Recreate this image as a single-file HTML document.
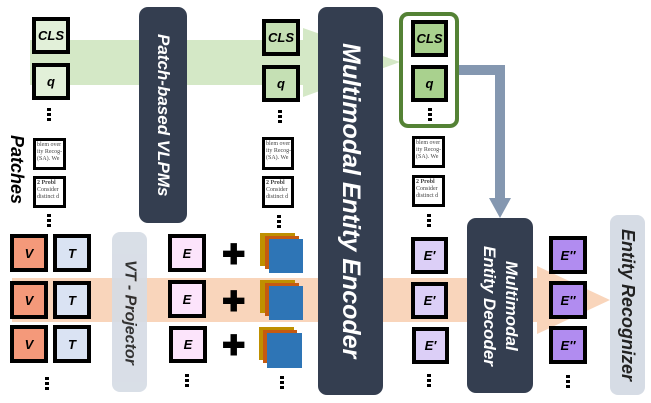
<!DOCTYPE html>
<html><head><meta charset="utf-8"><style>
body{margin:0;width:651px;height:403px;background:#fff;position:relative;overflow:hidden;font-family:"Liberation Sans",sans-serif}
.a{position:absolute;box-sizing:border-box}
.b{position:absolute;box-sizing:border-box;border:4px solid #000;display:flex;align-items:center;justify-content:center;font-weight:bold;font-style:italic;font-size:13px;color:#000}
.dk{position:absolute;background:#343e50;border-radius:9px;color:#fff;font-weight:bold;font-style:italic;writing-mode:vertical-rl;display:flex;align-items:center;justify-content:center;text-align:center}
.lt{position:absolute;background:#d6dce5;border-radius:8px;color:#222;font-weight:bold;font-style:italic;writing-mode:vertical-rl;display:flex;align-items:center;justify-content:center}
.dots{position:absolute;width:4px;font-size:0}
.dots i{display:block;width:4px;height:3px;background:#000;margin-bottom:2px}
.p{position:absolute;box-sizing:border-box;border:3px solid #000;background:#fff;font-family:"Liberation Serif",serif;font-size:6px;line-height:7px;overflow:hidden;color:#444;padding:1px;white-space:nowrap}
.plus{position:absolute;font-size:28px;font-weight:bold;color:#000;line-height:1}
</style></head><body>
<svg class="a" style="left:0;top:0" width="651" height="403">
<polygon points="30,40 303,40 303,28 400,62 303,97 303,85 30,85" fill="#d4e8c6"/>
<polygon points="12,278 537,278 537,266 610,300 537,334 537,322 12,322" fill="#f9d5bb"/>
<polygon points="459,65 505,65 505,198 511,198 500,218 489,198 495,198 495,75 459,75" fill="#8497b0"/>
</svg>
<div class="a" style="left:6px;top:135px;writing-mode:vertical-rl;font-weight:bold;font-style:italic;font-size:18px">Patches</div>
<div class="b" style="left:32px;top:17px;width:38px;height:37px;background:#e2f0d9">CLS</div>
<div class="b" style="left:32px;top:63px;width:38px;height:37px;background:#e2f0d9">q</div>
<div class="dots" style="left:47px;top:108px"><i></i><i></i><i></i></div>
<div class="p" style="left:33px;top:138px;width:33px;height:32px">blem over<br>ity Recog-<br>(SA). We</div>
<div class="p" style="left:33px;top:176px;width:33px;height:32px"><b>2 Probl</b><br>Consider<br>distinct d</div>
<div class="dots" style="left:47px;top:214px"><i></i><i></i><i></i></div>
<div class="dk" style="left:139px;top:7px;width:48px;height:216px;font-size:17px">Patch-based VLPMs</div>
<div class="b" style="left:262px;top:19px;width:38px;height:37px;background:#c5e0b4">CLS</div>
<div class="b" style="left:262px;top:65px;width:38px;height:37px;background:#c5e0b4">q</div>
<div class="dots" style="left:278px;top:110px"><i></i><i></i><i></i></div>
<div class="p" style="left:262px;top:137px;width:32px;height:33px">blem over<br>ity Recog-<br>(SA). We</div>
<div class="p" style="left:262px;top:176px;width:32px;height:32px"><b>2 Probl</b><br>Consider<br>distinct d</div>
<div class="dots" style="left:277px;top:215px"><i></i><i></i><i></i></div>
<div class="dk" style="left:318px;top:7px;width:65px;height:388px;font-size:25px">Multimodal Entity Encoder</div>
<div class="a" style="left:399px;top:12px;width:60px;height:116px;border:4px solid #548235;border-radius:9px;background:#fff"></div>
<div class="b" style="left:411px;top:20px;width:37px;height:37px;background:#a9d18e">CLS</div>
<div class="b" style="left:411px;top:65px;width:37px;height:37px;background:#a9d18e">q</div>
<div class="dots" style="left:428px;top:108px"><i></i><i></i><i></i></div>
<div class="p" style="left:412px;top:136px;width:33px;height:32px">blem over<br>ity Recog-<br>(SA). We</div>
<div class="p" style="left:412px;top:175px;width:33px;height:32px"><b>2 Probl</b><br>Consider<br>distinct d</div>
<div class="dots" style="left:427px;top:214px"><i></i><i></i><i></i></div>
<div class="b" style="left:10px;top:234px;width:38px;height:38px;background:#f4997a">V</div>
<div class="b" style="left:10px;top:281px;width:38px;height:38px;background:#f4997a">V</div>
<div class="b" style="left:10px;top:325px;width:38px;height:38px;background:#f4997a">V</div>
<div class="b" style="left:53px;top:234px;width:38px;height:38px;background:#dae3f3">T</div>
<div class="b" style="left:53px;top:281px;width:38px;height:38px;background:#dae3f3">T</div>
<div class="b" style="left:53px;top:325px;width:38px;height:38px;background:#dae3f3">T</div>
<div class="dots" style="left:45px;top:377px"><i></i><i></i><i></i></div>
<div class="lt" style="left:112px;top:232px;width:35px;height:160px;font-size:16px;opacity:.92">VT - Projector</div>
<div class="b" style="left:168px;top:234px;width:38px;height:38px;background:#fce4fb">E</div>
<div class="b" style="left:168px;top:280px;width:38px;height:38px;background:#fce4fb">E</div>
<div class="b" style="left:169px;top:326px;width:38px;height:37px;background:#fce4fb">E</div>
<div class="dots" style="left:185px;top:374px"><i></i><i></i><i></i></div>
<div class="plus" style="left:222px;top:241px">✚</div>
<div class="plus" style="left:222px;top:288px">✚</div>
<div class="plus" style="left:222px;top:332px">✚</div>
<div class="a" style="left:260px;top:233px;width:35px;height:33px;background:#bf9000"></div>
<div class="a" style="left:265px;top:236px;width:34px;height:33px;background:#c55a11"></div>
<div class="a" style="left:269px;top:239px;width:34px;height:34px;background:#2e75b6"></div>
<div class="a" style="left:260px;top:280px;width:35px;height:33px;background:#bf9000"></div>
<div class="a" style="left:265px;top:283px;width:34px;height:33px;background:#c55a11"></div>
<div class="a" style="left:269px;top:286px;width:34px;height:34px;background:#2e75b6"></div>
<div class="a" style="left:259px;top:327px;width:35px;height:33px;background:#bf9000"></div>
<div class="a" style="left:263px;top:330px;width:34px;height:33px;background:#c55a11"></div>
<div class="a" style="left:267px;top:333px;width:35px;height:35px;background:#2e75b6"></div>
<div class="dots" style="left:280px;top:376px"><i></i><i></i><i></i></div>
<div class="b" style="left:411px;top:237px;width:37px;height:37px;background:#dccff7">E′</div>
<div class="b" style="left:411px;top:282px;width:37px;height:37px;background:#dccff7">E′</div>
<div class="b" style="left:412px;top:327px;width:37px;height:37px;background:#dccff7">E′</div>
<div class="dots" style="left:427px;top:374px"><i></i><i></i><i></i></div>
<div class="dk" style="left:467px;top:218px;width:66px;height:175px;font-size:17px;line-height:22px">Multimodal<br>Entity Decoder</div>
<div class="b" style="left:549px;top:236px;width:38px;height:38px;background:#b18cf0">E″</div>
<div class="b" style="left:549px;top:281px;width:38px;height:38px;background:#b18cf0">E″</div>
<div class="b" style="left:549px;top:326px;width:38px;height:38px;background:#b18cf0">E″</div>
<div class="dots" style="left:566px;top:375px"><i></i><i></i><i></i></div>
<div class="lt" style="left:610px;top:215px;width:35px;height:180px;font-size:18px">Entity Recognizer</div>
</body></html>
